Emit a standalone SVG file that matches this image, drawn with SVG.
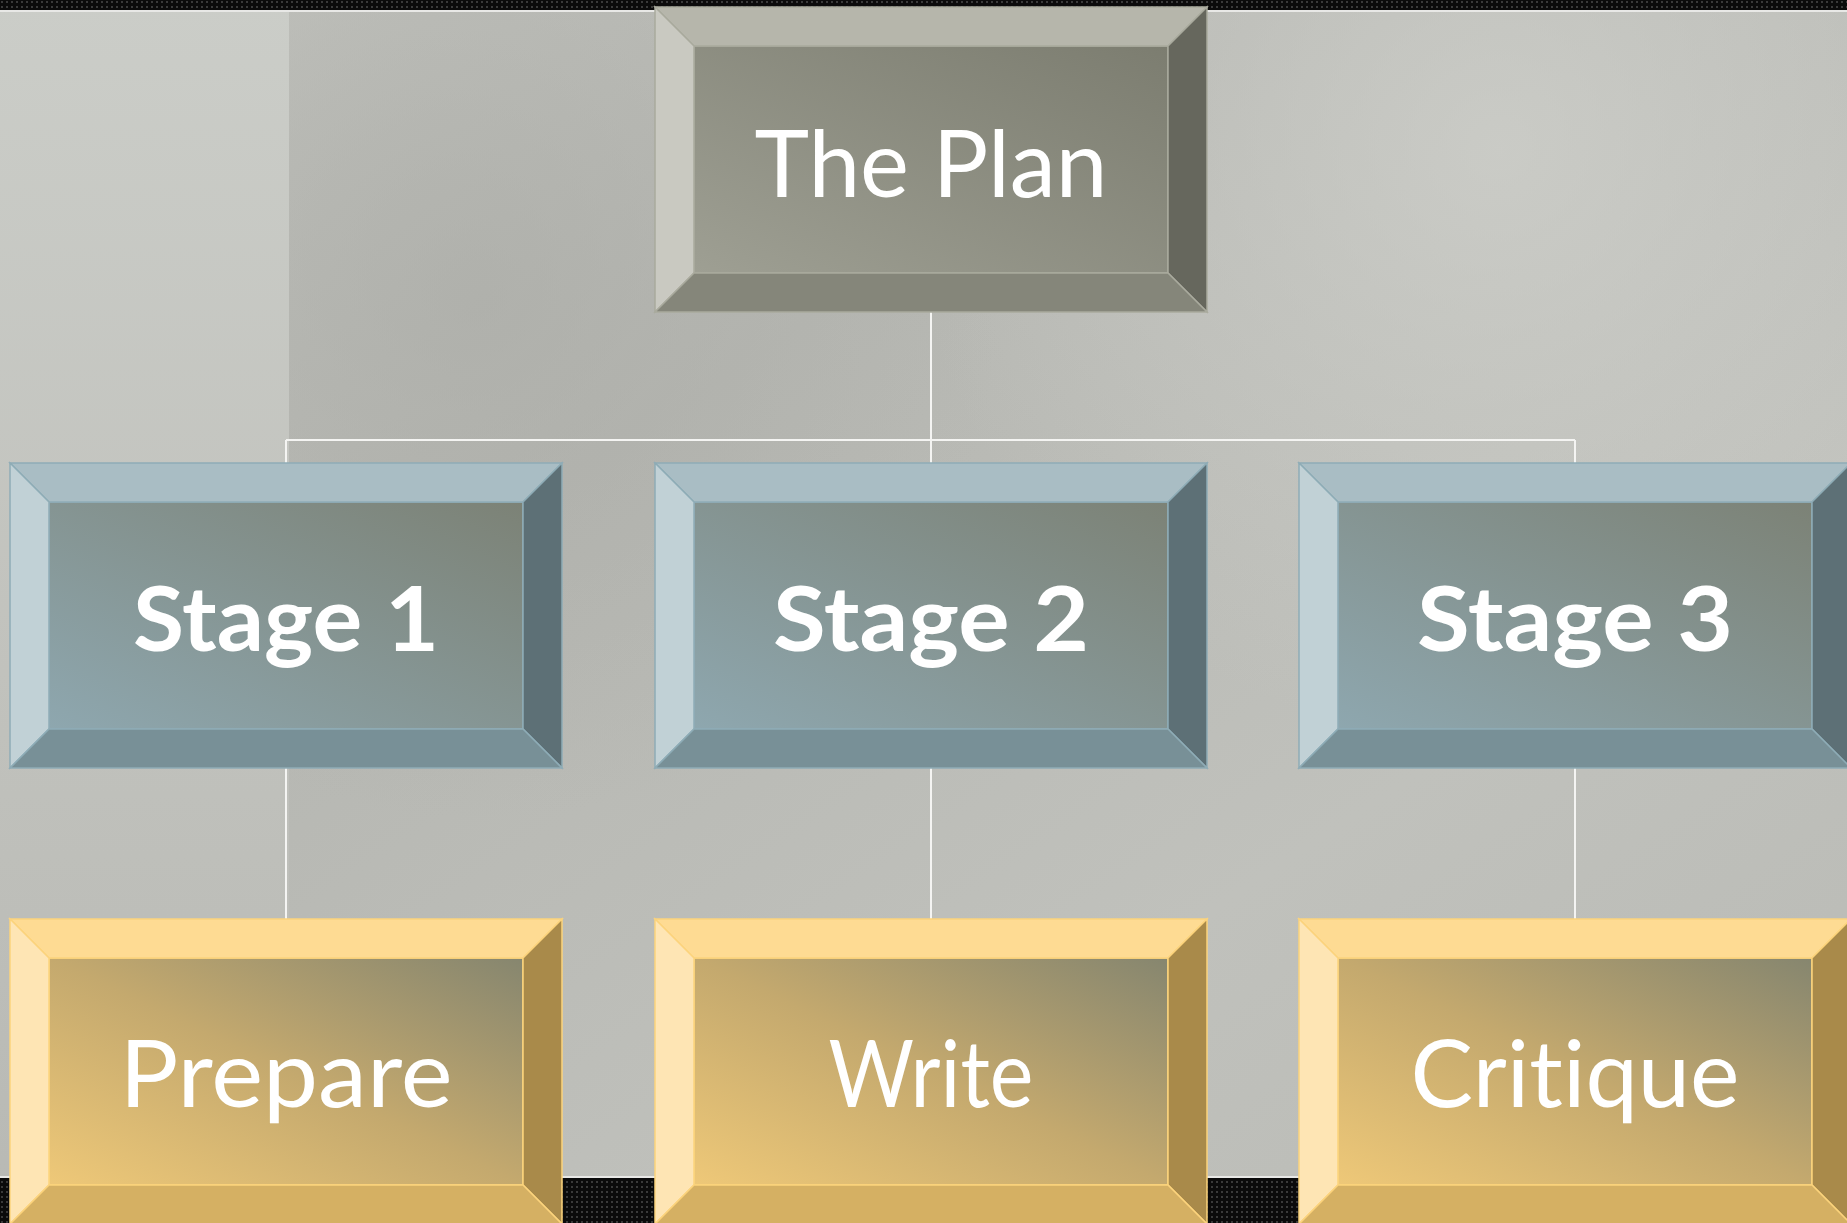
<svg xmlns="http://www.w3.org/2000/svg" width="1847" height="1223" viewBox="0 0 1847 1223">
  <defs>
    <pattern id="dots" width="5" height="5" patternUnits="userSpaceOnUse">
      <rect width="5" height="5" fill="#0b0b0b"/>
      <rect x="1" y="1" width="2" height="2" fill="#3a3a3a"/>
    </pattern>
    <linearGradient id="bgMain" x1="0" y1="0" x2="1" y2="1">
      <stop offset="0" stop-color="#c4c5c0"/>
      <stop offset="0.35" stop-color="#b6b7b2"/>
      <stop offset="0.7" stop-color="#c0c1bc"/>
      <stop offset="1" stop-color="#b9bab5"/>
    </linearGradient>
    <linearGradient id="bgLeft" x1="0" y1="0" x2="0" y2="1">
      <stop offset="0" stop-color="#cbcdc8"/>
      <stop offset="0.6" stop-color="#c0c1bc"/>
      <stop offset="1" stop-color="#b8b9b4"/>
    </linearGradient>
    <radialGradient id="bgShade" cx="480" cy="300" r="520" gradientUnits="userSpaceOnUse">
      <stop offset="0" stop-color="#a9aaa5" stop-opacity="0.6"/>
      <stop offset="1" stop-color="#a9aaa5" stop-opacity="0"/>
    </radialGradient>
    <radialGradient id="bgLight" cx="1500" cy="150" r="600" gradientUnits="userSpaceOnUse">
      <stop offset="0" stop-color="#d1d2cd" stop-opacity="0.7"/>
      <stop offset="1" stop-color="#d1d2cd" stop-opacity="0"/>
    </radialGradient>
    <linearGradient id="gInner" x1="0" y1="1" x2="1" y2="0">
      <stop offset="0" stop-color="#9e9f93"/>
      <stop offset="1" stop-color="#7c7d70"/>
    </linearGradient>
    <linearGradient id="bInner" x1="0" y1="1" x2="1" y2="0">
      <stop offset="0" stop-color="#8ea7af"/>
      <stop offset="1" stop-color="#7c8276"/>
    </linearGradient>
    <linearGradient id="yInner" x1="0" y1="1" x2="1" y2="0">
      <stop offset="0" stop-color="#eec878"/>
      <stop offset="0.5" stop-color="#c4a96e"/>
      <stop offset="1" stop-color="#86866f"/>
    </linearGradient>
    <style>
      .conn { stroke: #f4f4f2; stroke-width: 2; fill: none; }
      .g .t { fill: #b6b6ab; } .g .l { fill: #c9c9c1; } .g .r { fill: #66675d; } .g .b { fill: #85867a; } .g .i { fill: url(#gInner); }
      .g polygon, .g rect { stroke: #a9aa9d; stroke-width: 1.5; }
      .s .t { fill: #a9bdc4; } .s .l { fill: #c1d1d6; } .s .r { fill: #5d7076; } .s .b { fill: #789097; } .s .i { fill: url(#bInner); }
      .s polygon, .s rect { stroke: #8eacb6; stroke-width: 1.5; }
      .y .t { fill: #fedb93; } .y .l { fill: #fee5b4; } .y .r { fill: #a98a4a; } .y .b { fill: #d5b063; } .y .i { fill: url(#yInner); }
      .y polygon, .y rect { stroke: #fcd37c; stroke-width: 1.5; }
      .lbl { fill: #ffffff; font-family: Lato, "Noto Sans", "DejaVu Sans", sans-serif; text-anchor: middle; font-variant-ligatures: none; }
      .reg { font-size: 94px; font-weight: 400; }
      .bold { font-size: 90px; font-weight: 700; }
    </style>
  </defs>

  <!-- background -->
  <rect x="0" y="0" width="1847" height="1223" fill="url(#bgMain)"/>
  <rect x="0" y="0" width="1847" height="1223" fill="url(#bgLight)"/>
  <rect x="0" y="0" width="1847" height="1223" fill="url(#bgShade)"/>
  <rect x="0" y="0" width="289" height="1223" fill="url(#bgLeft)"/>
  <rect x="0" y="0" width="1847" height="10" fill="url(#dots)"/>
  <line x1="0" y1="11" x2="1847" y2="11" stroke="#e8e8e6" stroke-width="2"/>
  <rect x="0" y="1178" width="1847" height="45" fill="url(#dots)"/>
  <line x1="0" y1="1177" x2="1847" y2="1177" stroke="#e8e8e6" stroke-width="2"/>

  <!-- connectors -->
  <g id="connectors">
    <line class="conn" x1="931" y1="312" x2="931" y2="463"/>
    <line class="conn" x1="286" y1="440" x2="1575" y2="440"/>
    <line class="conn" x1="286" y1="440" x2="286" y2="463"/>
    <line class="conn" x1="1575" y1="440" x2="1575" y2="463"/>
    <line class="conn" x1="286" y1="768" x2="286" y2="919"/>
    <line class="conn" x1="931" y1="768" x2="931" y2="919"/>
    <line class="conn" x1="1575" y1="768" x2="1575" y2="919"/>
  </g>

  <!-- nodes -->
  <g id="node-plan" class="g" transform="translate(655,7)">
    <rect class="i" x="39" y="39" width="474" height="227"/>
    <polygon class="t" points="0,0 552,0 513,39 39,39"/>
    <polygon class="l" points="0,0 39,39 39,266 0,305"/>
    <polygon class="r" points="552,0 552,305 513,266 513,39"/>
    <polygon class="b" points="0,305 39,266 513,266 552,305"/>
    <text class="lbl reg" x="276" y="190" textLength="353" lengthAdjust="spacingAndGlyphs">The Plan</text>
  </g>

  <g id="node-stage1" class="s" transform="translate(10,463)">
    <rect class="i" x="39" y="39" width="474" height="227"/>
    <polygon class="t" points="0,0 552,0 513,39 39,39"/>
    <polygon class="l" points="0,0 39,39 39,266 0,305"/>
    <polygon class="r" points="552,0 552,305 513,266 513,39"/>
    <polygon class="b" points="0,305 39,266 513,266 552,305"/>
    <text class="lbl bold" x="276" y="188" textLength="306" lengthAdjust="spacingAndGlyphs">Stage 1</text>
  </g>

  <g id="node-stage2" class="s" transform="translate(655,463)">
    <rect class="i" x="39" y="39" width="474" height="227"/>
    <polygon class="t" points="0,0 552,0 513,39 39,39"/>
    <polygon class="l" points="0,0 39,39 39,266 0,305"/>
    <polygon class="r" points="552,0 552,305 513,266 513,39"/>
    <polygon class="b" points="0,305 39,266 513,266 552,305"/>
    <text class="lbl bold" x="276" y="188" textLength="316" lengthAdjust="spacingAndGlyphs">Stage 2</text>
  </g>

  <g id="node-stage3" class="s" transform="translate(1299,463)">
    <rect class="i" x="39" y="39" width="474" height="227"/>
    <polygon class="t" points="0,0 552,0 513,39 39,39"/>
    <polygon class="l" points="0,0 39,39 39,266 0,305"/>
    <polygon class="r" points="552,0 552,305 513,266 513,39"/>
    <polygon class="b" points="0,305 39,266 513,266 552,305"/>
    <text class="lbl bold" x="276" y="188" textLength="316" lengthAdjust="spacingAndGlyphs">Stage 3</text>
  </g>

  <g id="node-prepare" class="y" transform="translate(10,919)">
    <rect class="i" x="39" y="39" width="474" height="227"/>
    <polygon class="t" points="0,0 552,0 513,39 39,39"/>
    <polygon class="l" points="0,0 39,39 39,266 0,305"/>
    <polygon class="r" points="552,0 552,305 513,266 513,39"/>
    <polygon class="b" points="0,305 39,266 513,266 552,305"/>
    <text class="lbl reg" x="276" y="188" textLength="333" lengthAdjust="spacingAndGlyphs">Prepare</text>
  </g>

  <g id="node-write" class="y" transform="translate(655,919)">
    <rect class="i" x="39" y="39" width="474" height="227"/>
    <polygon class="t" points="0,0 552,0 513,39 39,39"/>
    <polygon class="l" points="0,0 39,39 39,266 0,305"/>
    <polygon class="r" points="552,0 552,305 513,266 513,39"/>
    <polygon class="b" points="0,305 39,266 513,266 552,305"/>
    <text class="lbl reg" x="276" y="188" textLength="205" lengthAdjust="spacingAndGlyphs">Write</text>
  </g>

  <g id="node-critique" class="y" transform="translate(1299,919)">
    <rect class="i" x="39" y="39" width="474" height="227"/>
    <polygon class="t" points="0,0 552,0 513,39 39,39"/>
    <polygon class="l" points="0,0 39,39 39,266 0,305"/>
    <polygon class="r" points="552,0 552,305 513,266 513,39"/>
    <polygon class="b" points="0,305 39,266 513,266 552,305"/>
    <text class="lbl reg" x="276" y="188" textLength="329" lengthAdjust="spacingAndGlyphs">Critique</text>
  </g>
</svg>
